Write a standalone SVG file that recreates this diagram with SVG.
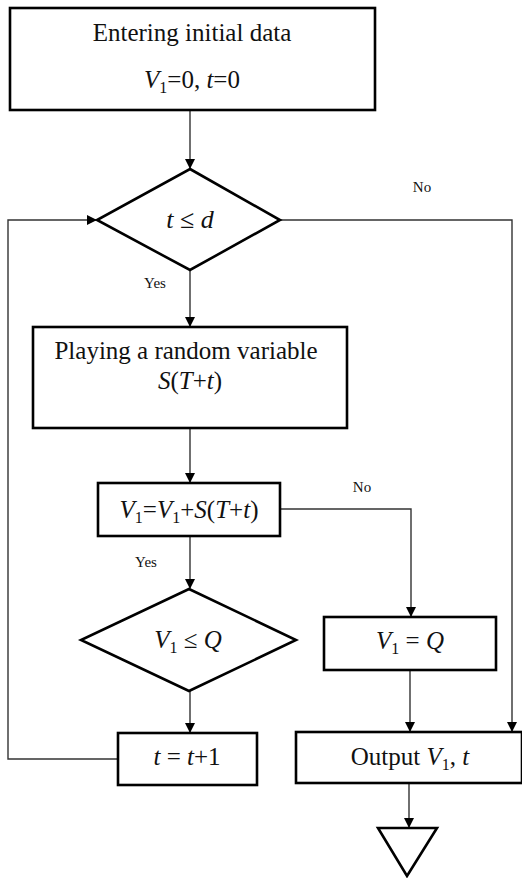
<svg xmlns="http://www.w3.org/2000/svg" width="522" height="878" viewBox="0 0 522 878">
<defs>
<marker id="ah" markerWidth="10" markerHeight="10" refX="9" refY="5" orient="auto" markerUnits="userSpaceOnUse">
<path d="M0,0 L10,5 L0,10 Z" fill="#000"/>
</marker>
<style>
.box{fill:#fff;stroke:#000;stroke-width:2.6}
.ln{fill:none;stroke:#333;stroke-width:1.4}
text{font-family:'Liberation Serif','DejaVu Serif',serif;fill:#111;text-anchor:middle}
.m{font-style:italic}
.lab{font-size:15px}
</style>
</defs>
<rect width="522" height="878" fill="#fff"/>
<g id="connectors">
<path class="ln" d="M190,110 V168" marker-end="url(#ah)"/>
<path class="ln" d="M190,270 V326" marker-end="url(#ah)"/>
<path class="ln" d="M190,428 V482" marker-end="url(#ah)"/>
<path class="ln" d="M190,536 V588" marker-end="url(#ah)"/>
<path class="ln" d="M190,691 V732" marker-end="url(#ah)"/>
<path class="ln" d="M118,759 H8 V220 H96" marker-end="url(#ah)"/>
<path class="ln" d="M280,220 H512 V731" marker-end="url(#ah)"/>
<path class="ln" d="M280,509 H411 V616" marker-end="url(#ah)"/>
<path class="ln" d="M410,670 V731" marker-end="url(#ah)"/>
<path class="ln" d="M409,783 V827" marker-end="url(#ah)"/>
<text class="lab" x="422" y="192">No</text>
<text class="lab" x="155" y="288">Yes</text>
<text class="lab" x="362" y="492">No</text>
<text class="lab" x="146" y="567">Yes</text>
</g>
<g id="start">
<rect class="box" x="10" y="8" width="365" height="102"/>
<text x="192" y="41" font-size="25">Entering initial data</text>
<text x="192" y="88" font-size="25"><tspan class="m">V</tspan><tspan font-size="16" dy="5">1</tspan><tspan dy="-5">=0, </tspan><tspan class="m">t</tspan>=0</text>
</g>
<g id="cond1">
<polygon class="box" points="190,169 280,220 190,270 97,220"/>
<text class="m" x="190" y="228" font-size="26">t ≤ d</text>
</g>
<g id="play">
<rect class="box" x="33" y="327" width="314" height="101"/>
<text x="186" y="359" font-size="25">Playing a random variable</text>
<text x="190" y="389" font-size="25"><tspan class="m">S</tspan>(<tspan class="m">T</tspan>+<tspan class="m">t</tspan>)</text>
</g>
<g id="update">
<rect class="box" x="98" y="483" width="182" height="53"/>
<text x="189" y="518" font-size="25"><tspan class="m">V</tspan><tspan font-size="16" dy="5">1</tspan><tspan dy="-5">=</tspan><tspan class="m">V</tspan><tspan font-size="16" dy="5">1</tspan><tspan dy="-5">+</tspan><tspan class="m">S</tspan>(<tspan class="m">T</tspan>+<tspan class="m">t</tspan>)</text>
</g>
<g id="cond2">
<polygon class="box" points="189,589 296,640 189,691 81,640"/>
<text x="188" y="648" font-size="25"><tspan class="m">V</tspan><tspan font-size="16" dy="5">1</tspan><tspan dy="-5"> ≤ </tspan><tspan class="m">Q</tspan></text>
</g>
<g id="setq">
<rect class="box" x="324" y="617" width="172" height="53"/>
<text x="410" y="649" font-size="25"><tspan class="m">V</tspan><tspan font-size="16" dy="5">1</tspan><tspan dy="-5"> = </tspan><tspan class="m">Q</tspan></text>
</g>
<g id="inc">
<rect class="box" x="118" y="733" width="139" height="52"/>
<text x="187" y="765" font-size="25"><tspan class="m">t</tspan> = <tspan class="m">t</tspan>+1</text>
</g>
<g id="output">
<rect class="box" x="296" y="732" width="226" height="51"/>
<text x="410" y="765" font-size="25">Output <tspan class="m">V</tspan><tspan font-size="16" dy="5">1</tspan><tspan dy="-5">, </tspan><tspan class="m">t</tspan></text>
</g>
<g id="end">
<polygon class="box" points="378,828 437,828 407,876"/>
</g>
</svg>
